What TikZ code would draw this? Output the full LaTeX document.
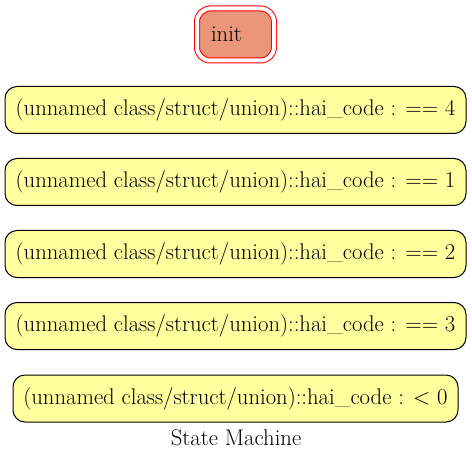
\documentclass[tikz,border=0pt]{standalone}
\usepackage{fontspec}
\definecolor{statefill}{RGB}{255,255,160}
\definecolor{initfill}{RGB}{233,150,122}
\begin{document}
\begin{tikzpicture}
          [x=0.75pt,y=-0.75pt,every node/.style={font=\fontsize{17}{19}\selectfont},
           state/.style={draw, line width=0.75pt, fill=statefill, rounded corners=9pt, inner sep=0pt, minimum height=35.25pt}]
        \useasboundingbox (0,0) rectangle (472,460);
        \node[draw=red, line width=0.75pt, double=white, double distance=3pt, fill=initfill, rounded corners=10pt,
              minimum height=39pt, inner xsep=10.5pt, text width=36.75pt, align=left] (init) at (235.5,34.5) {init};

        \foreach \n/\y in {4/110, 1/182, 2/254, 3/326}
          \node[state, minimum width=345.75pt] (eq\n) at (235.5,\y) {(unnamed class/struct/union)::hai\_code : == \n};
        \node[state, minimum width=333.75pt] (lt0) at (235.5,398.5) {(unnamed class/struct/union)::hai\_code : < 0};

        \node (title) at (236,438) {State Machine};
      \end{tikzpicture}
\end{document}
